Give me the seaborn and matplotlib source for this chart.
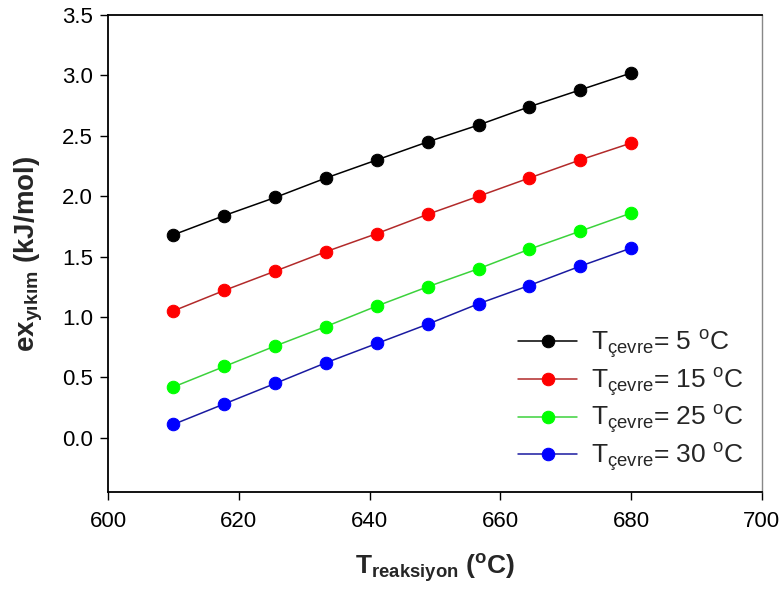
import numpy as np
import pandas as pd
import matplotlib
matplotlib.use("Agg")
import matplotlib.pyplot as plt
import seaborn as sns

sns.set_style("white")
plt.rcParams['font.family'] = ['Liberation Sans', 'DejaVu Sans']
plt.rcParams['mathtext.fontset'] = 'custom'
plt.rcParams['mathtext.rm'] = 'Liberation Sans'
plt.rcParams['mathtext.it'] = 'Liberation Sans:italic'
plt.rcParams['mathtext.bf'] = 'Liberation Sans:bold'

t_reaksiyon = [610, 617.8, 625.6, 633.3, 641.1, 648.9, 656.7, 664.4, 672.2, 680]
ex_5 = [1.68, 1.84, 1.99, 2.15, 2.30, 2.45, 2.59, 2.74, 2.88, 3.02]
ex_15 = [1.05, 1.22, 1.38, 1.54, 1.69, 1.85, 2.00, 2.15, 2.30, 2.44]
ex_25 = [0.42, 0.59, 0.76, 0.92, 1.09, 1.25, 1.40, 1.56, 1.71, 1.86]
ex_30 = [0.11, 0.28, 0.45, 0.62, 0.78, 0.94, 1.11, 1.26, 1.42, 1.57]
labels = [r'T$_{\mathrm{çevre}}$= 5 $^{\mathrm{o}}$C',
          r'T$_{\mathrm{çevre}}$= 15 $^{\mathrm{o}}$C',
          r'T$_{\mathrm{çevre}}$= 25 $^{\mathrm{o}}$C',
          r'T$_{\mathrm{çevre}}$= 30 $^{\mathrm{o}}$C']
line_colors = ['#000000', '#b22a2a', '#3cd23c', '#1a1aa0']
marker_colors = ['#000000', '#ff0000', '#00ff00', '#0000ff']

fig = plt.figure(figsize=(7.83, 5.91), dpi=100)
ax = fig.add_axes([0.138, 0.1675, 0.835, 0.807])

for ys, lab, lc, mc in zip([ex_5, ex_15, ex_25, ex_30], labels, line_colors, marker_colors):
    df = pd.DataFrame({'x': t_reaksiyon, 'y': ys})
    sns.lineplot(data=df, x='x', y='y', ax=ax, color=lc, lw=1.1, marker='o',
                 markersize=9, markerfacecolor=mc, markeredgecolor=mc, label=lab)

ax.set_xlim(600, 700)
ax.set_ylim(-0.45, 3.5)
ax.set_xticks([600, 620, 640, 660, 680, 700])
ax.set_yticks([0.0, 0.5, 1.0, 1.5, 2.0, 2.5, 3.0, 3.5])
ax.set_yticklabels(['0.0', '0.5', '1.0', '1.5', '2.0', '2.5', '3.0', '3.5'])
ax.tick_params(axis='both', direction='out', length=6, width=1, labelsize=16,
               bottom=True, left=True, colors='black')
ax.tick_params(axis='x', pad=8)
ax.tick_params(axis='y', pad=5)
for s in ['left', 'bottom', 'top']:
    ax.spines[s].set_color('black')
    ax.spines[s].set_linewidth(1.3)
ax.spines['right'].set_color('#888888')
ax.spines['right'].set_linewidth(1.0)

ax.set_xlabel(r'T$_{\mathbf{reaksiyon}}$ ($^{\mathbf{o}}$C)', fontsize=19, fontweight='bold', labelpad=14)
ax.set_ylabel(r'ex$_{\mathbf{yıkım}}$ (kJ/mol)', fontsize=20, fontweight='bold', labelpad=12)

leg = ax.legend(loc='lower right', bbox_to_anchor=(1.008, -0.012), frameon=False,
                fontsize=19, handlelength=2.25, handletextpad=0.5, labelspacing=0.19)

fig.savefig('out.png', dpi=100)
